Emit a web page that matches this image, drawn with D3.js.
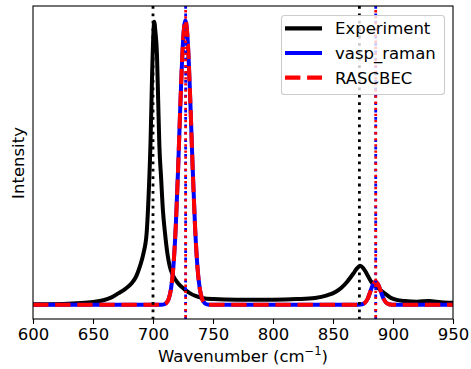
<!DOCTYPE html>
<html>
<head>
<meta charset="utf-8">
<script src="https://cdn.jsdelivr.net/npm/d3@7"></script>
<style>
  body { margin: 0; background: #fff; }
  svg { font-family: "DejaVu Sans", sans-serif; }
</style>
</head>
<body>
<div id="chart"></div>
<script>
"use strict";

// measured spectrum (normalised intensity)
var expX = [600, 625, 640, 650, 658.6, 665, 671, 677, 682, 686, 689, 692, 694.7, 696.5, 698, 699.2, 700.3, 701, 702, 703.3, 704.3, 705.3, 706.7, 708.3, 710, 712, 714, 717, 721, 726, 731, 736, 741.7, 750, 770, 800, 820, 835, 845, 852, 857, 862, 867, 870, 872.5, 875, 878, 882, 887.8, 893, 898, 903, 910, 920, 930, 940, 950];
var expY = [0.002, 0.003, 0.006, 0.01, 0.016, 0.025, 0.04, 0.056, 0.075, 0.10, 0.134, 0.18, 0.252, 0.40, 0.58, 0.80, 0.95, 0.995, 0.96, 0.88, 0.72, 0.56, 0.45, 0.33, 0.252, 0.18, 0.134, 0.10, 0.075, 0.055, 0.04, 0.03, 0.023, 0.02, 0.018, 0.018, 0.02, 0.024, 0.033, 0.045, 0.06, 0.082, 0.11, 0.128, 0.137, 0.13, 0.11, 0.08, 0.058, 0.04, 0.025, 0.017, 0.013, 0.011, 0.013, 0.009, 0.007];

// computed spectra (both codes give the same curve)
var calcX = [600, 700, 707, 709, 711, 713, 715, 717, 719, 721, 723, 725, 727, 729, 731, 733, 735, 737, 739, 741, 743, 745, 747, 760, 870, 873, 875, 877, 879, 881, 883, 885.5, 888, 890, 892, 894, 896, 898, 900, 950];
var vaspY = [0, 0, 0.0003, 0.0015, 0.006, 0.02, 0.056, 0.135, 0.278, 0.487, 0.726, 0.923, 1.0, 0.923, 0.726, 0.487, 0.278, 0.135, 0.056, 0.02, 0.006, 0.0015, 0.0003, 0, 0, 0.0008, 0.003, 0.009, 0.022, 0.045, 0.068, 0.081, 0.068, 0.045, 0.022, 0.009, 0.003, 0.0008, 0, 0];
var rascbecY = [0, 0, 0.0003, 0.0015, 0.006, 0.02, 0.056, 0.135, 0.278, 0.487, 0.726, 0.923, 1.0, 0.923, 0.726, 0.487, 0.278, 0.135, 0.056, 0.02, 0.006, 0.0015, 0.0003, 0, 0, 0.0008, 0.003, 0.009, 0.022, 0.045, 0.068, 0.081, 0.068, 0.045, 0.022, 0.009, 0.003, 0.0008, 0, 0];

// peak positions
var expPeaks = [700, 872];
var calcPeaks = [727.2, 885.6];

var xTicks = [600, 650, 700, 750, 800, 850, 900, 950];
var seriesNames = ["Experiment", "vasp_raman", "RASCBEC"];
var seriesColors = ["#000000", "#0000ff", "#ff0000"];

var W = 471, H = 369;
var margin = {top: 6, right: 18, bottom: 50, left: 33};
var pw = W - margin.left - margin.right;
var ph = H - margin.top - margin.bottom;

var svg = d3.select("#chart").append("svg")
    .attr("width", W).attr("height", H);

svg.append("defs").append("clipPath").attr("id", "clip")
    .append("rect").attr("width", pw).attr("height", ph);

var g = svg.append("g")
    .attr("transform", "translate(" + margin.left + "," + margin.top + ")");

var x = d3.scaleLinear().domain([600, 950]).range([0, pw]);
var y = d3.scaleLinear().domain([-0.05, 1.05]).range([ph, 0]);

var line = d3.line()
    .x(function (d) { return x(d[0]); })
    .y(function (d) { return y(d[1]); })
    .curve(d3.curveMonotoneX);

var plot = g.append("g").attr("clip-path", "url(#clip)");

plot.append("path")
    .datum(d3.zip(expX, expY))
    .attr("fill", "none").attr("stroke", seriesColors[0])
    .attr("stroke-width", 4).attr("stroke-linejoin", "round")
    .attr("d", line);

plot.append("path")
    .datum(d3.zip(calcX, vaspY))
    .attr("fill", "none").attr("stroke", seriesColors[1])
    .attr("stroke-width", 4).attr("stroke-linejoin", "round")
    .attr("d", line);

plot.append("path")
    .datum(d3.zip(calcX, rascbecY))
    .attr("fill", "none").attr("stroke", seriesColors[2])
    .attr("stroke-width", 4).attr("stroke-dasharray", "15.4,6.7")
    .attr("d", line);

// peak markers
plot.selectAll(".vexp").data(expPeaks).enter().append("line")
    .attr("x1", function (d) { return x(d); }).attr("x2", function (d) { return x(d); })
    .attr("y1", 0).attr("y2", ph)
    .attr("stroke", "#000").attr("stroke-width", 2.8)
    .attr("stroke-dasharray", "2.8,4.6");

plot.selectAll(".vvasp").data(calcPeaks).enter().append("line")
    .attr("x1", function (d) { return x(d); }).attr("x2", function (d) { return x(d); })
    .attr("y1", 0).attr("y2", ph)
    .attr("stroke", "#0000ff").attr("stroke-width", 2.8)
    .attr("stroke-dasharray", "2.8,4.6");

plot.selectAll(".vras").data(calcPeaks).enter().append("line")
    .attr("x1", function (d) { return x(d); }).attr("x2", function (d) { return x(d); })
    .attr("y1", 0).attr("y2", ph)
    .attr("stroke", "#ff0000").attr("stroke-width", 2.8)
    .attr("stroke-dasharray", "2.3,3.8").attr("stroke-dashoffset", 2);

// frame
g.append("rect")
    .attr("width", pw).attr("height", ph)
    .attr("fill", "none").attr("stroke", "#000").attr("stroke-width", 1.1);

// x axis
var xAxis = g.append("g")
    .attr("transform", "translate(0," + ph + ")")
    .call(d3.axisBottom(x).tickValues(xTicks).tickFormat(d3.format("d"))
        .tickSize(4.9).tickPadding(4.5));
xAxis.select(".domain").remove();
xAxis.selectAll(".tick line").attr("stroke", "#000").attr("stroke-width", 1.1);
xAxis.selectAll(".tick text")
    .attr("fill", "#000").style("font-size", "16.5px")
    .style("font-family", "DejaVu Sans, sans-serif");

// axis labels
var xl = svg.append("text")
    .attr("x", 243).attr("y", 362)
    .attr("text-anchor", "middle")
    .style("font-size", "16.5px").attr("fill", "#000");
xl.append("tspan").text("Wavenumber (cm");
xl.append("tspan").attr("dy", -7).style("font-size", "11.5px").text("\u22121");
xl.append("tspan").attr("dy", 7).text(")");

svg.append("text")
    .attr("transform", "translate(24,163) rotate(-90)")
    .attr("text-anchor", "middle")
    .style("font-size", "16.5px").attr("fill", "#000")
    .text("Intensity");

// legend
var lg = svg.append("g");
lg.append("rect")
    .attr("x", 281.5).attr("y", 15.5).attr("width", 163).attr("height", 79)
    .attr("rx", 3).attr("fill", "#fff").attr("fill-opacity", 0.8)
    .attr("stroke", "#cccccc").attr("stroke-width", 1.1);

var rows = lg.selectAll(".row").data(seriesNames).enter().append("g")
    .attr("transform", function (d, i) { return "translate(0," + (28.3 + i * 24.7) + ")"; });
rows.append("line")
    .attr("x1", 285).attr("x2", 322).attr("y1", 0).attr("y2", 0)
    .attr("stroke", function (d, i) { return seriesColors[i]; })
    .attr("stroke-width", 4.2)
    .attr("stroke-dasharray", function (d, i) { return i === 2 ? "15.4,6.7" : null; });
rows.append("text")
    .attr("x", 335).attr("y", 6)
    .style("font-size", "16.5px").attr("fill", "#000")
    .text(function (d) { return d; });
</script>
</body>
</html>
